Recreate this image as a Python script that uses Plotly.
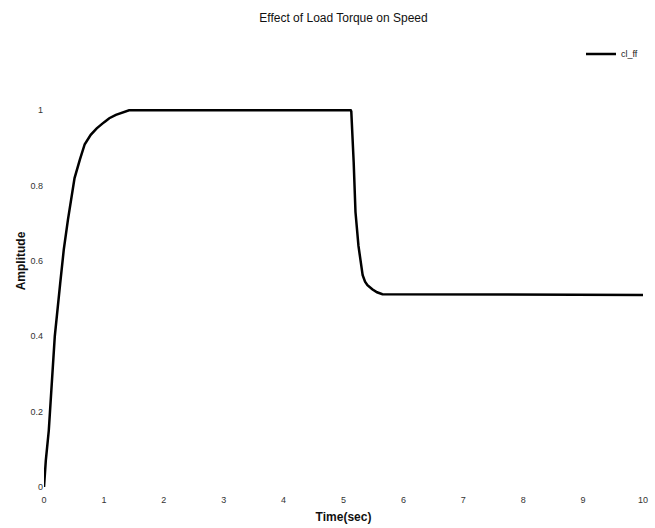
import plotly.graph_objects as go

# Speed response: rise to rated speed, then a load torque step just after t = 5 s
time_s = [0.0, 0.03, 0.08, 0.10, 0.18, 0.27, 0.33, 0.40, 0.51, 0.60, 0.68, 0.78,
          0.88, 1.00, 1.09, 1.20, 1.31, 1.42, 5.12, 5.13, 5.17, 5.20, 5.25, 5.28,
          5.32, 5.36, 5.40, 5.48, 5.56, 5.65, 10.0]
speed = [0.0, 0.07, 0.15, 0.20, 0.40, 0.54, 0.63, 0.71, 0.82, 0.87, 0.91, 0.935,
         0.952, 0.968, 0.979, 0.988, 0.995, 1.0, 1.0, 0.997, 0.862, 0.73, 0.64, 0.60,
         0.562, 0.545, 0.536, 0.525, 0.517, 0.512, 0.51]

x_ticks = [0, 1, 2, 3, 4, 5, 6, 7, 8, 9, 10]
y_ticks = [0, 0.2, 0.4, 0.6, 0.8, 1]
y_tick_text = ["0", "0.2", "0.4", "0.6", "0.8", "1"]

fig = go.Figure()
fig.add_trace(go.Scatter(
    x=time_s, y=speed, mode="lines", name="cl_ff",
    line=dict(color="black", width=2.5),
))

fig.update_layout(
    width=655, height=528,
    margin=dict(l=44, r=7, t=35, b=41),
    paper_bgcolor="white", plot_bgcolor="white",
    font=dict(family="Liberation Sans Narrow, Liberation Sans, Arial", color="#222"),
    title=dict(text="Effect of Load Torque on Speed", x=0.5, xref="paper",
               y=0.966, yanchor="middle",
               font=dict(size=12, color="#111")),
    showlegend=True,
    legend=dict(x=1.0, xanchor="right", y=0.958, yanchor="middle",
                bgcolor="rgba(0,0,0,0)", font=dict(size=9, color="#222"),
                itemwidth=30),
    xaxis=dict(range=[0, 10], tickvals=x_ticks, showgrid=False, zeroline=False,
               showline=False, ticks="", ticklabelstandoff=6,
               tickfont=dict(size=9, color="#333"),
               title=dict(text="<b>Time(sec)</b>", font=dict(size=12, color="#111"),
                          standoff=8)),
    yaxis=dict(range=[0, 1.2], tickvals=y_ticks, ticktext=y_tick_text,
               showgrid=False, zeroline=False, showline=False, ticks="",
               tickfont=dict(size=9, color="#333"),
               title=dict(text="<b>Amplitude</b>", font=dict(size=12, color="#111"),
                          standoff=2)),
)

fig.write_html("out.html")
